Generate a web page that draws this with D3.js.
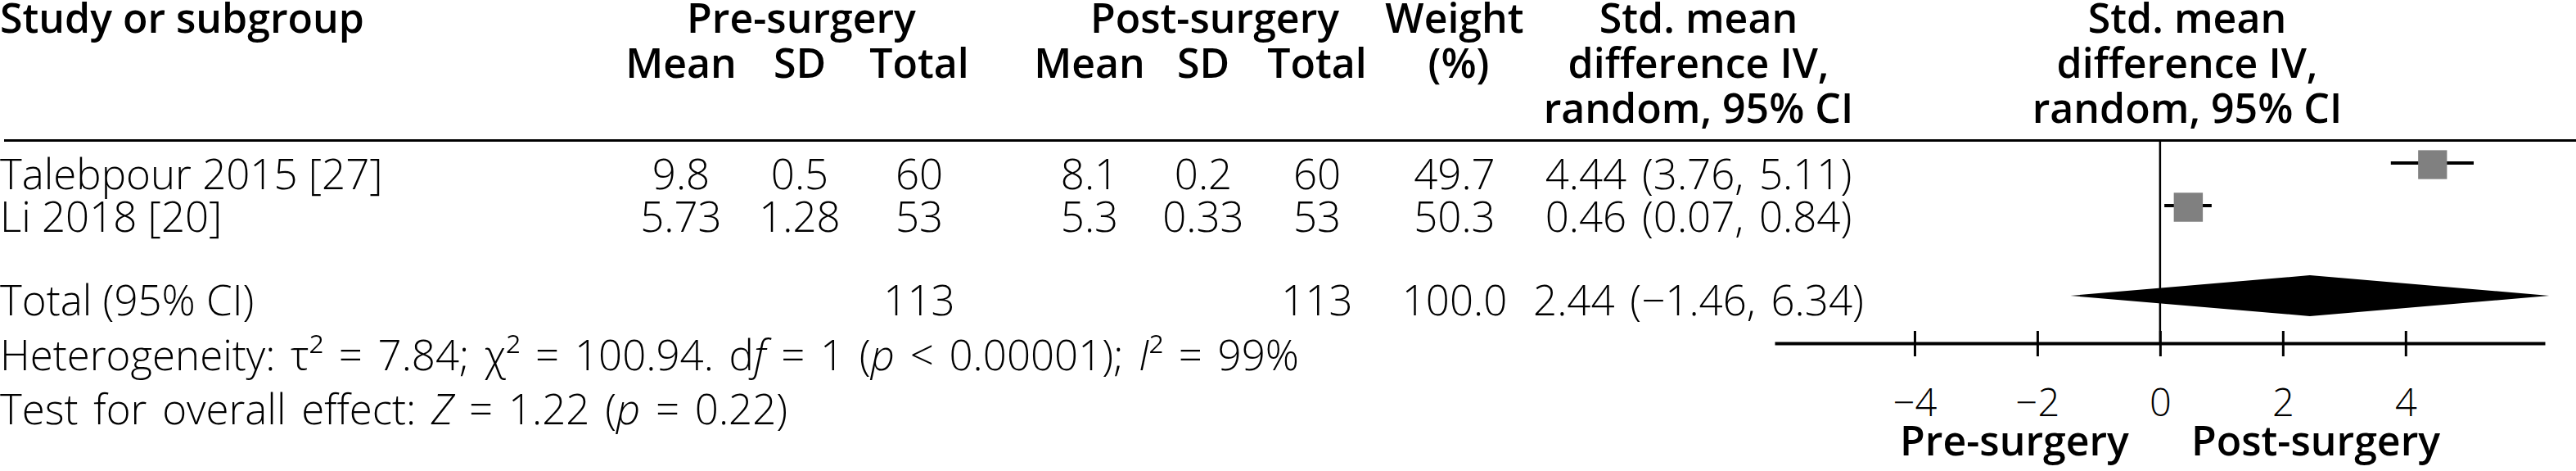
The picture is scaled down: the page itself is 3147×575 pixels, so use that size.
<!DOCTYPE html>
<html>
<head>
<meta charset="utf-8">
<script src="https://cdn.jsdelivr.net/npm/d3@7"></script>
<style>
  html, body { margin: 0; padding: 0; background: #fff; }
  svg { display: block; }
  text { font-family: "Open Sans", "Noto Sans", "DejaVu Sans", sans-serif; fill: #000; }
  .hd { font-weight: 600; font-size: 50px; }
  .bd { font-weight: 300; font-size: 51px; }
  .ws { word-spacing: 5.5px; }
</style>
</head>
<body>
<svg id="chart" width="3147" height="575"></svg>
<script>
// ---------------- data ----------------
const studies   = ["Talebpour 2015 [27]", "Li 2018 [20]"];
const preMean   = [9.8, 5.73];
const preSD     = [0.5, 1.28];
const preN      = [60, 53];
const postMean  = [8.1, 5.3];
const postSD    = [0.2, 0.33];
const postN     = [60, 53];
const weights   = [49.7, 50.3];
const smd       = [4.44, 0.46];
const ciLow     = [3.76, 0.07];
const ciHigh    = [5.11, 0.84];

const totalLabel  = "Total (95% CI)";
const totalPreN   = 113;
const totalPostN  = 113;
const totalWeight = 100.0;
const totalSmd    = 2.44;
const totalLow    = -1.46;
const totalHigh   = 6.34;

const xTicks       = [-4, -2, 0, 2, 4];
const favourLabels = ["Pre-surgery", "Post-surgery"];
const groupHeaders = ["Pre-surgery", "Post-surgery"];
const subHeaders   = ["Mean", "SD", "Total"];

// ---------------- layout ----------------
const svg = d3.select("#chart");
const W = 3147;
const col = { study: 0, preMean: 832, preSD: 977, preN: 1123, post: 1484, pre: 979,
              postMean: 1331, postSD: 1470, postN: 1609, weight: 1777, smd: 2075, plot: 2672 };
const hdY = [40, 95, 150];
const ruleY = 171.5;
const totalY = 385;
const hetY = 452;
const testY = 518;
const axisY = 419;
const markOffset = -30;

const yRow = d3.scalePoint().domain(studies).range([231, 283]);
const x = d3.scaleLinear().domain([-6.28, 6.27]).range([2168, 3109]);
const side = d3.scaleSqrt().domain([0, 100]).range([0, 50]);

const fmt1 = d3.format(".1f");
const fmt2 = d3.format(".2f");
const ci = (m, l, h) => `${fmt2(m)} (${fmt2(l)}, ${fmt2(h)})`;

// ---------------- header ----------------
const hd = svg.append("g").attr("class", "hd");
hd.append("text").attr("x", col.study).attr("y", hdY[0]).text("Study or subgroup");
hd.append("text").attr("x", col.pre).attr("y", hdY[0]).attr("text-anchor", "middle").text(groupHeaders[0]);
hd.append("text").attr("x", col.post).attr("y", hdY[0]).attr("text-anchor", "middle").text(groupHeaders[1]);
[[col.preMean, col.preSD, col.preN], [col.postMean, col.postSD, col.postN]].forEach(cs => {
  cs.forEach((cx, i) => hd.append("text").attr("x", cx).attr("y", hdY[1])
    .attr("text-anchor", "middle").text(subHeaders[i]));
});
hd.append("text").attr("x", col.weight).attr("y", hdY[0]).attr("text-anchor", "middle").text("Weight");
hd.append("text").attr("x", col.weight + 5).attr("y", hdY[1]).attr("text-anchor", "middle").text("(%)");
[col.smd, col.plot].forEach(cx => {
  ["Std. mean", "difference IV,", "random, 95% CI"].forEach((t, i) =>
    hd.append("text").attr("x", cx).attr("y", hdY[i]).attr("text-anchor", "middle").text(t));
});

// rule
svg.append("line").attr("x1", 5).attr("x2", W).attr("y1", ruleY).attr("y2", ruleY)
  .attr("stroke", "#000").attr("stroke-width", 3);

// ---------------- study rows ----------------
const bd = svg.append("g").attr("class", "bd");
const rows = bd.selectAll("g.row").data(studies).join("g").attr("class", "row")
  .attr("transform", d => `translate(0,${yRow(d)})`);
rows.append("text").attr("x", col.study).text(d => d);
const cells = [
  [col.preMean, (d, i) => String(preMean[i])],
  [col.preSD, (d, i) => String(preSD[i])],
  [col.preN, (d, i) => String(preN[i])],
  [col.postMean, (d, i) => String(postMean[i])],
  [col.postSD, (d, i) => String(postSD[i])],
  [col.postN, (d, i) => String(postN[i])],
  [col.weight, (d, i) => fmt1(weights[i])]
];
cells.forEach(([cx, f]) => {
  rows.append("text").attr("x", cx).attr("text-anchor", "middle").text(f);
});
rows.append("text").attr("class", "ws").attr("x", col.smd).attr("text-anchor", "middle")
  .text((d, i) => ci(smd[i], ciLow[i], ciHigh[i]));

// total row
const tot = bd.append("g").attr("transform", `translate(0,${totalY})`);
tot.append("text").attr("x", col.study).text(totalLabel);
tot.append("text").attr("x", col.preN).attr("text-anchor", "middle").text(totalPreN);
tot.append("text").attr("x", col.postN).attr("text-anchor", "middle").text(totalPostN);
tot.append("text").attr("x", col.weight).attr("text-anchor", "middle").text(fmt1(totalWeight));
tot.append("text").attr("class", "ws").attr("x", col.smd).attr("text-anchor", "middle")
  .text(ci(totalSmd, totalLow, totalHigh));

// heterogeneity / test lines
const het = bd.append("text").attr("class", "ws").attr("x", 0).attr("y", hetY);
[["Heterogeneity: τ² = 7.84; χ² = 100.94. d", false], ["f", true], [" = 1 (", false], ["p", true],
 [" < 0.00001); ", false], ["I", true], ["² = 99%", false]]
  .forEach(([t, it]) => het.append("tspan").attr("font-style", it ? "italic" : null).text(t));
const tst = bd.append("text").attr("class", "ws").attr("x", 0).attr("y", testY);
[["Test for overall effect: ", false], ["Z", true], [" = 1.22 (", false], ["p", true], [" = 0.22)", false]]
  .forEach(([t, it]) => tst.append("tspan").attr("font-style", it ? "italic" : null).text(t));

// ---------------- forest plot ----------------
const plot = svg.append("g");
// zero line
plot.append("line").attr("x1", x(0)).attr("x2", x(0)).attr("y1", ruleY).attr("y2", axisY)
  .attr("stroke", "#000").attr("stroke-width", 2.5);

// CI lines & squares
const marks = plot.selectAll("g.mk").data(studies).join("g").attr("class", "mk")
  .attr("transform", d => `translate(0,${yRow(d) + markOffset})`);
marks.append("line")
  .attr("x1", (d, i) => x(ciLow[i])).attr("x2", (d, i) => x(ciHigh[i]))
  .attr("y1", -2).attr("y2", -2).attr("stroke", "#000").attr("stroke-width", 4);
marks.append("rect")
  .attr("x", (d, i) => x(smd[i]) - side(weights[i]) / 2)
  .attr("y", (d, i) => -side(weights[i]) / 2)
  .attr("width", (d, i) => side(weights[i]))
  .attr("height", (d, i) => side(weights[i]))
  .attr("fill", "#808080");

// diamond
const dy = totalY - 24;
plot.append("path")
  .attr("d", d3.line()([[x(totalLow), dy], [x(totalSmd), dy - 25], [x(totalHigh), dy], [x(totalSmd), dy + 25]]) + "Z")
  .attr("fill", "#000");

// axis
const axis = d3.axisBottom(x).tickValues(xTicks).tickSizeOuter(0).tickFormat(d3.format("d"));
const ag = plot.append("g").attr("transform", `translate(0,${axisY})`).call(axis);
ag.select(".domain").attr("stroke", "#000").attr("stroke-width", 4);
ag.selectAll(".tick line").attr("y1", -15).attr("y2", 16).attr("stroke", "#000").attr("stroke-width", 3);
ag.selectAll(".tick text").attr("y", 89).attr("dy", null)
  .style("font-family", '"Open Sans", "Noto Sans", sans-serif')
  .style("font-size", "47px").style("font-weight", 300).attr("fill", "#000");

// favour labels
const fv = svg.append("g").attr("class", "hd");
fv.append("text").attr("x", 2461).attr("y", 556).attr("text-anchor", "middle").text(favourLabels[0]);
fv.append("text").attr("x", 2829).attr("y", 556).attr("text-anchor", "middle").text(favourLabels[1]);
</script>
</body>
</html>
